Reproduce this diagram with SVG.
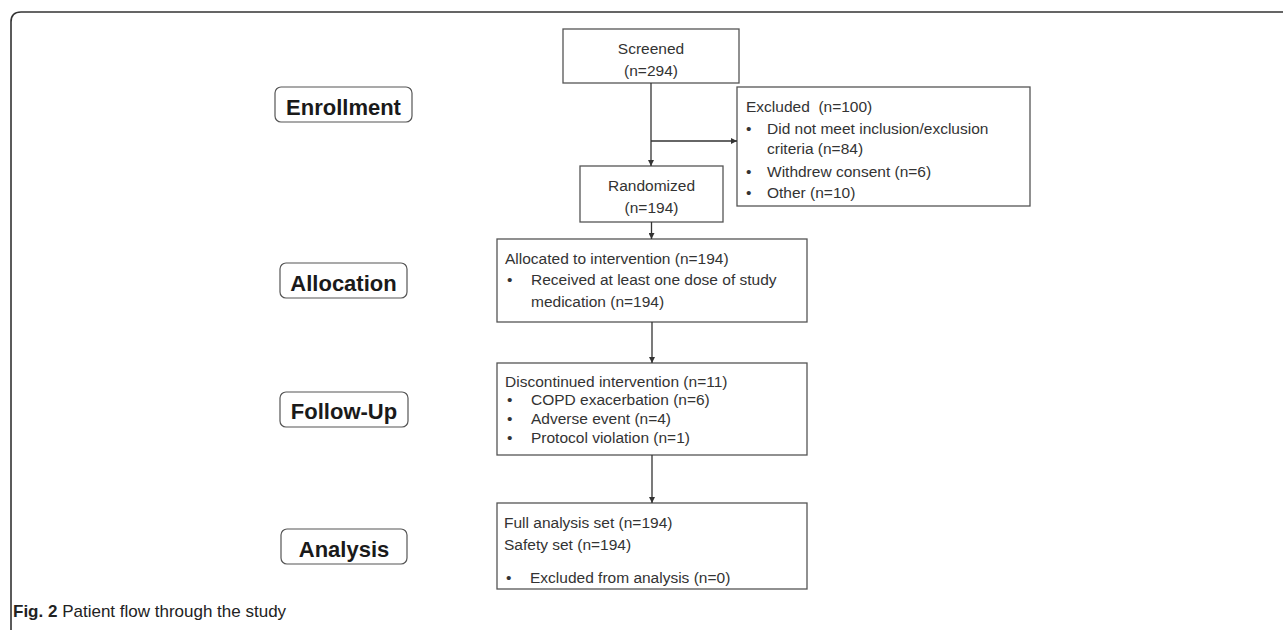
<svg xmlns="http://www.w3.org/2000/svg" width="1283" height="630" viewBox="0 0 1283 630">
<defs>
<marker id="ah" viewBox="0 0 10 10" refX="10" refY="5" markerWidth="7" markerHeight="6" markerUnits="userSpaceOnUse" orient="auto">
<path d="M0,0 L10,5 L0,10 z" fill="#333"/>
</marker>
<style>
.box{fill:#fff;stroke:#555;stroke-width:1.3}
.lab{fill:#fff;stroke:#555;stroke-width:1.2}
.lt{font-family:"Liberation Sans",Arial,sans-serif;font-size:22px;font-weight:bold;fill:#1a1a1a;text-anchor:middle}
.t{font-family:"Liberation Sans",Arial,sans-serif;font-size:15.5px;fill:#333}
.c{text-anchor:middle}
.conn{stroke:#333;stroke-width:1.3;fill:none;marker-end:url(#ah)}
.cap{font-family:"Liberation Sans",Arial,sans-serif;font-size:17px;fill:#222}
</style>
</defs>
<rect width="1283" height="630" fill="#fff"/>
<path d="M11,630 L11,22 Q11,12 21,12 L1283,12" fill="none" stroke="#333" stroke-width="1.6"/>

<g id="label-enrollment"><rect class="lab" x="275" y="87" width="137" height="35" rx="6"/><text class="lt" x="343.5" y="115">Enrollment</text></g>
<g id="label-allocation"><rect class="lab" x="280" y="263" width="127" height="35" rx="6"/><text class="lt" x="343.5" y="291">Allocation</text></g>
<g id="label-followup"><rect class="lab" x="280" y="392" width="128" height="35" rx="6"/><text class="lt" x="344" y="419">Follow-Up</text></g>
<g id="label-analysis"><rect class="lab" x="281" y="529" width="126" height="35" rx="6"/><text class="lt" x="344" y="557">Analysis</text></g>

<g id="screened"><rect class="box" x="563" y="29" width="176" height="54"/>
<text class="t c" x="651" y="54">Screened</text><text class="t c" x="651" y="76">(n=294)</text></g>

<g id="excluded"><rect class="box" x="737" y="87" width="293" height="119"/>
<text class="t" x="746" y="112" xml:space="preserve">Excluded  (n=100)</text>
<text class="t" x="746" y="134">•</text><text class="t" x="767" y="134">Did not meet inclusion/exclusion</text>
<text class="t" x="767" y="154">criteria (n=84)</text>
<text class="t" x="746" y="177">•</text><text class="t" x="767" y="177">Withdrew consent (n=6)</text>
<text class="t" x="746" y="198">•</text><text class="t" x="767" y="198">Other (n=10)</text></g>

<g id="randomized"><rect class="box" x="580" y="166" width="143" height="56"/>
<text class="t c" x="651.5" y="191">Randomized</text><text class="t c" x="651.5" y="213">(n=194)</text></g>

<g id="allocated"><rect class="box" x="497" y="239" width="310" height="83"/>
<text class="t" x="505" y="264">Allocated to intervention (n=194)</text>
<text class="t" x="507" y="285">•</text><text class="t" x="531" y="285">Received at least one dose of study</text>
<text class="t" x="531" y="307">medication (n=194)</text></g>

<g id="discontinued"><rect class="box" x="497" y="363" width="310" height="92"/>
<text class="t" x="505" y="387">Discontinued intervention (n=11)</text>
<text class="t" x="507" y="405">•</text><text class="t" x="531" y="405">COPD exacerbation (n=6)</text>
<text class="t" x="507" y="424">•</text><text class="t" x="531" y="424">Adverse event (n=4)</text>
<text class="t" x="507" y="443">•</text><text class="t" x="531" y="443">Protocol violation (n=1)</text></g>

<g id="analysis"><rect class="box" x="497" y="503" width="310" height="86"/>
<text class="t" x="504" y="528">Full analysis set (n=194)</text>
<text class="t" x="504" y="550">Safety set (n=194)</text>
<text class="t" x="506" y="583">•</text><text class="t" x="530" y="583">Excluded from analysis (n=0)</text></g>

<g id="connectors">
<line class="conn" x1="651" y1="83" x2="651" y2="166"/>
<line class="conn" x1="651" y1="141" x2="737" y2="141"/>
<line class="conn" x1="651.5" y1="222" x2="651.5" y2="239"/>
<line class="conn" x1="652" y1="322" x2="652" y2="363"/>
<line class="conn" x1="652" y1="455" x2="652" y2="503"/>
</g>

<text class="cap" x="13" y="617"><tspan font-weight="bold">Fig. 2</tspan> Patient flow through the study</text>
</svg>
